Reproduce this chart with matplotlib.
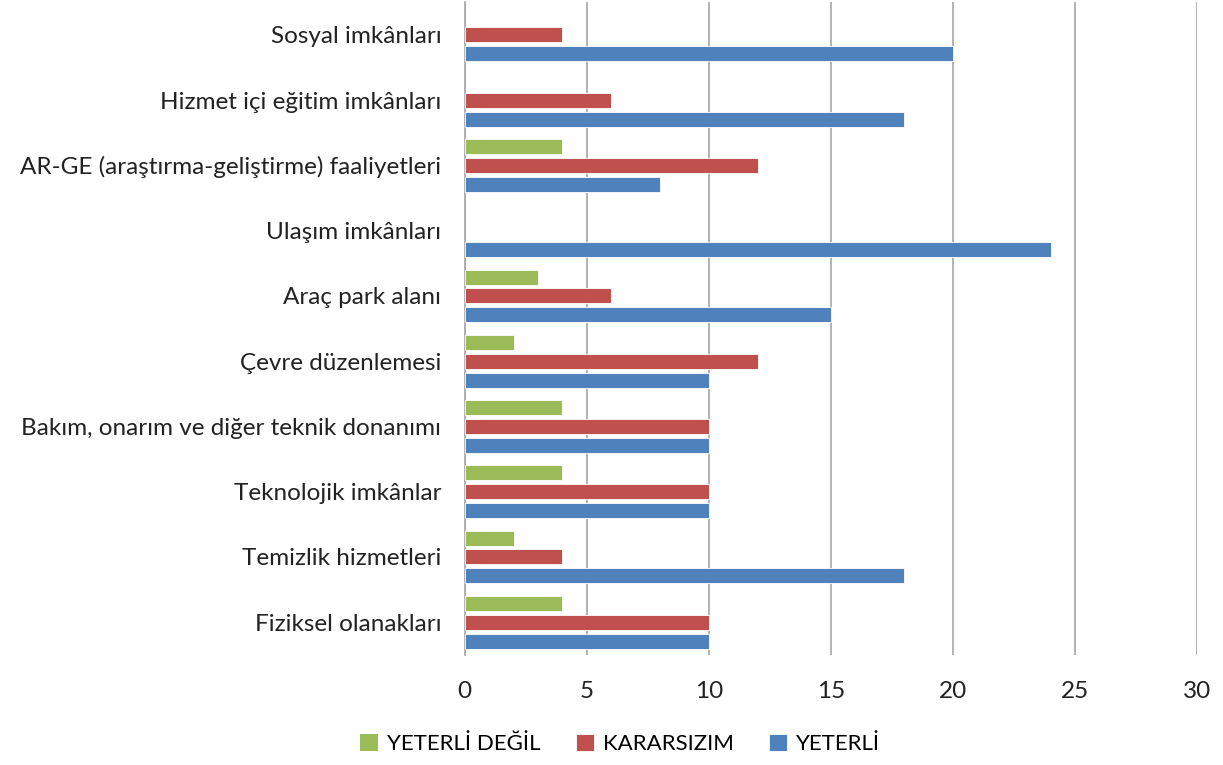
import matplotlib.pyplot as plt
import numpy as np

plt.rcParams['font.family'] = ['Lato', 'DejaVu Sans']

categories = ["Sosyal imkânları", "Hizmet içi eğitim imkânları",
              "AR-GE (araştırma-geliştirme) faaliyetleri", "Ulaşım imkânları",
              "Araç park alanı", "Çevre düzenlemesi",
              "Bakım, onarım ve diğer teknik donanımı", "Teknolojik imkânlar",
              "Temizlik hizmetleri", "Fiziksel olanakları"]
yeterli_degil = [0, 0, 4, 0, 3, 2, 4, 4, 2, 4]
kararsizim = [4, 6, 12, 0, 6, 12, 10, 10, 4, 10]
yeterli = [20, 18, 8, 24, 15, 10, 10, 10, 18, 10]

series = [("YETERLİ DEĞİL", yeterli_degil, '#9BBB59'),
          ("KARARSIZIM", kararsizim, '#C0504D'),
          ("YETERLİ", yeterli, '#4F81BD')]

fig = plt.figure(figsize=(12.23, 7.65), dpi=100)
ax = fig.add_axes([0.380, 0.144, 0.599, 0.853])

y = np.arange(len(categories))
offsets = [-0.29, 0, 0.29]
for (name, vals, color), off in zip(series, offsets):
    lw = [0.6 if v else 0 for v in vals]
    ax.barh(y + off, vals, height=0.23, color=color, label=name,
            edgecolor='white', linewidth=lw, zorder=3)

ax.set_ylim(len(categories) - 0.5, -0.5)
ax.set_xlim(0, 30)
ax.set_xticks(range(0, 31, 5))
ax.set_yticks(y)
ax.set_yticklabels(categories)
ax.xaxis.grid(True, color='#a6a6a6', linewidth=1.2, zorder=0)
for s in ['top', 'right', 'bottom']:
    ax.spines[s].set_visible(False)
ax.spines['left'].set_color('#a6a6a6')
ax.spines['left'].set_linewidth(1.2)
ax.tick_params(axis='both', length=0, labelsize=17.5, colors='#222222')
ax.tick_params(axis='x', pad=19)
ax.tick_params(axis='y', pad=17)

fig.legend(loc='lower center', bbox_to_anchor=(0.507, -0.012), ncol=3, frameon=False,
           fontsize=16, handlelength=0.8, handleheight=0.8, handletextpad=0.4,
           columnspacing=1.6)

fig.savefig('out.png', dpi=100)
